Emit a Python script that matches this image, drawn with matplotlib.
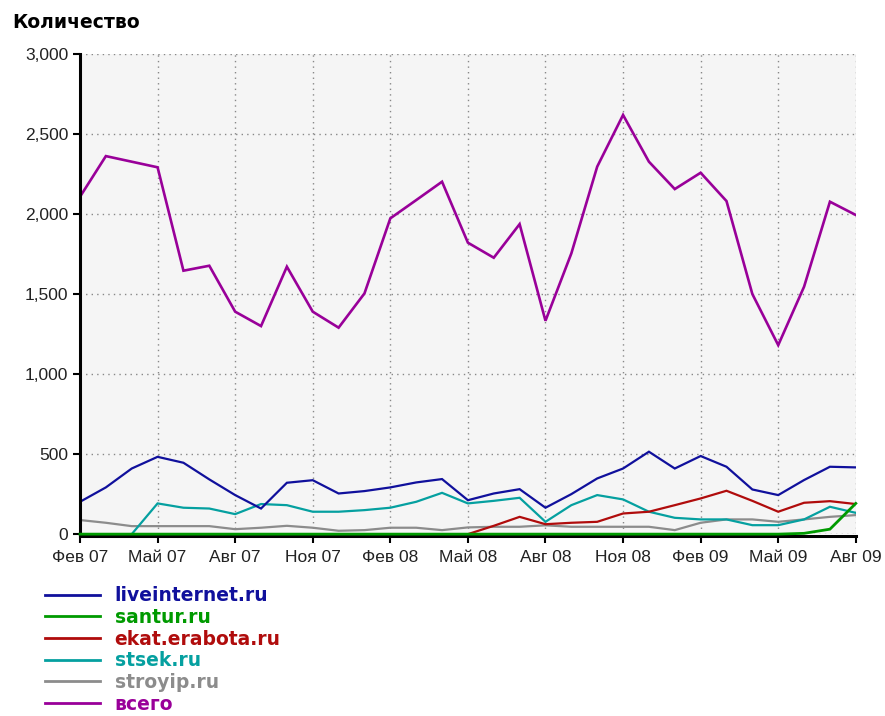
import numpy as np
import matplotlib
matplotlib.use("Agg")
import matplotlib.pyplot as plt
from matplotlib.ticker import FuncFormatter

# monthly data, Feb 07 .. Aug 09
months = ["Фев 07", "Мар 07", "Апр 07", "Май 07", "Июн 07", "Июл 07", "Авг 07", "Сен 07",
          "Окт 07", "Ноя 07", "Дек 07", "Янв 08", "Фев 08", "Мар 08", "Апр 08", "Май 08",
          "Июн 08", "Июл 08", "Авг 08", "Сен 08", "Окт 08", "Ноя 08", "Дек 08", "Янв 09",
          "Фев 09", "Мар 09", "Апр 09", "Май 09", "Июн 09", "Июл 09", "Авг 09"]

liveinternet = [202, 292, 410, 483, 446, 342, 244, 160, 321, 337, 254, 269, 292, 323, 344, 212,
                254, 281, 165, 250, 348, 410, 515, 410, 488, 421, 279, 244, 338, 421, 417]
santur = [0, 0, 0, 0, 0, 0, 0, 0, 0, 0, 0, 0, 0, 0, 0, 0,
          0, 0, 0, 0, 0, 0, 0, 0, 0, 0, 0, 0, 5, 31, 192]
ekat = [0, 0, 0, 0, 0, 0, 0, 0, 0, 0, 0, 0, 0, 0, 0, 0,
        52, 108, 62, 71, 77, 129, 140, 181, 223, 271, 208, 140, 196, 206, 188]
stsek = [0, 0, 0, 192, 165, 160, 125, 188, 181, 140, 140, 150, 165, 202, 258, 192,
         208, 227, 77, 181, 244, 217, 140, 102, 92, 92, 56, 56, 92, 171, 133]
stroyip = [88, 71, 50, 50, 50, 50, 31, 40, 52, 40, 21, 25, 40, 40, 25, 42,
           46, 46, 55, 46, 46, 46, 46, 25, 71, 92, 92, 77, 92, 108, 119]
total = [2108, 2362, 2327, 2292, 1646, 1677, 1390, 1300, 1671, 1390, 1290, 1504, 1973, 2087,
         2202, 1821, 1727, 1937, 1333, 1754, 2296, 2619, 2327, 2156, 2258, 2081, 1500, 1181,
         1546, 2077, 1994]

series = [("liveinternet.ru", liveinternet, "#10109c", 1.6),
          ("santur.ru", santur, "#009a00", 2.0),
          ("ekat.erabota.ru", ekat, "#b00c0c", 1.6),
          ("stsek.ru", stsek, "#05a0a0", 1.6),
          ("stroyip.ru", stroyip, "#8c8c8c", 1.6),
          ("всего", total, "#990099", 1.9)]

plt.rcParams['font.family'] = ['Liberation Sans', 'DejaVu Sans']

fig = plt.figure(figsize=(8.85, 7.16), dpi=100)
ax = fig.add_axes([0.0904, 0.254, 0.8766, 0.6706])
ax.set_facecolor("#f5f5f5")

x = np.arange(len(months))
# draw back to front so the total ends up on top, green sits on the axis line
order = [(series[4], 2), (series[3], 2), (series[2], 2), (series[0], 2),
         (series[1], 3), (series[5], 2.1)]
for (name, vals, col, lw), z in order:
    ax.plot(x, vals, color=col, lw=lw, solid_joinstyle="miter", zorder=z,
            clip_on=(name != "santur.ru"))

ax.set_xlim(0, len(months) - 1)
ax.set_ylim(0, 3000)
ax.set_xticks(x[::3])
ax.set_xticklabels(months[::3])
ax.set_yticks(np.arange(0, 3001, 500))
ax.yaxis.set_major_formatter(FuncFormatter(lambda v, p: "{:,.0f}".format(v)))

ax.grid(True, color="#888888", linestyle=(0, (1, 3)), lw=1)
for s in ["top", "right"]:
    ax.spines[s].set_visible(False)
for s in ["left", "bottom"]:
    ax.spines[s].set_linewidth(2.2)
    ax.spines[s].set_color("black")
ax.spines["bottom"].set_position(("outward", 1.5))
ax.tick_params(axis="both", direction="out", length=5, width=1.5, colors="black",
               labelsize=12.5, labelcolor="#222222")
ax.tick_params(axis="x", pad=5)

fig.text(0.0136, 0.969, "Количество", fontsize=13.5, fontweight="bold", va="center",
         ha="left", family="DejaVu Sans")

# legend under the chart, text coloured like the lines
handles = [plt.Line2D([], [], color=c, lw=2) for _, _, c, _ in series]
leg = fig.legend(handles, [n for n, _, _, _ in series], loc="upper left",
                 bbox_to_anchor=(0.051, 0.181), frameon=False, handlelength=2.9,
                 handletextpad=0.8, labelspacing=0.14, borderaxespad=0, borderpad=0,
                 prop={"weight": "bold", "size": 13.5, "family": "DejaVu Sans"})
for txt, (_, _, c, _) in zip(leg.get_texts(), series):
    txt.set_color(c)

fig.savefig("out.png", dpi=100)
